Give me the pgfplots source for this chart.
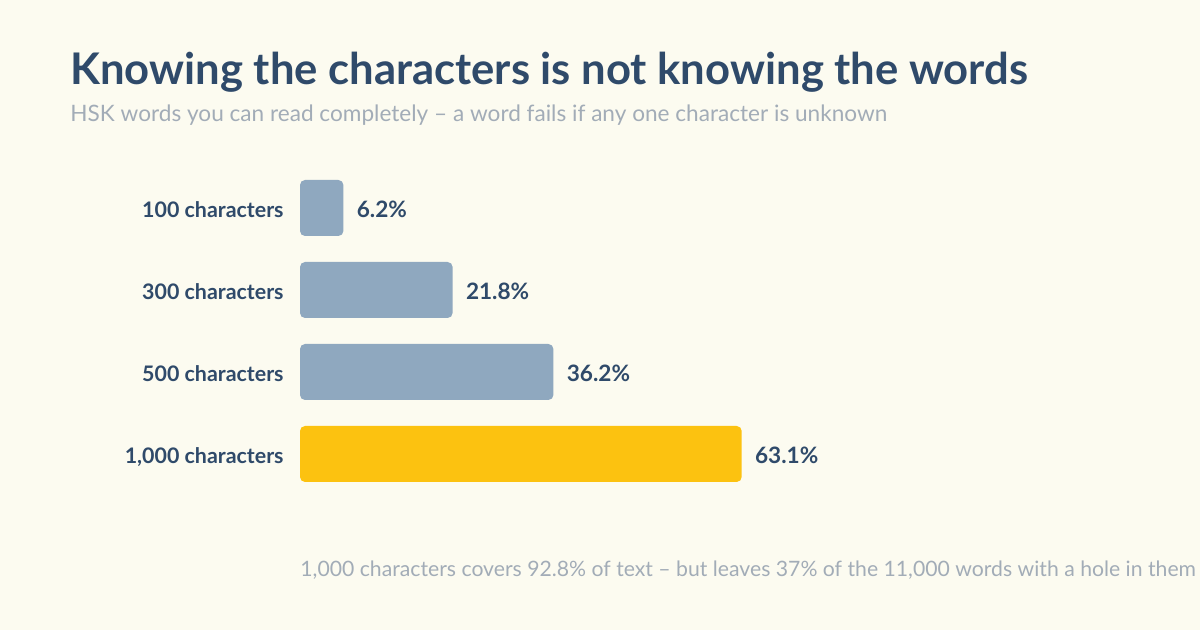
\documentclass[border=0pt]{standalone}
\usepackage{fontspec}
\setmainfont{Lato}
\usepackage{pgfplots}
\pgfplotsset{compat=1.18}
\definecolor{bgcol}{HTML}{FCFBF0}
\definecolor{navy}{HTML}{2F4A6A}
\definecolor{subgray}{HTML}{A2ACB7}
\definecolor{barblue}{HTML}{8FA8BF}
\definecolor{baryellow}{HTML}{FCC210}
\begin{document}
\begin{tikzpicture}
\useasboundingbox (0,0) rectangle (600pt,315pt);
\fill[bgcol] (0,0) rectangle (600pt,315pt);
\clip (0,0) rectangle (600pt,315pt);
% title block
\node[anchor=base west, inner sep=0pt, text=navy, font=\bfseries\fontsize{21.8}{26}\selectfont]
  at (35pt,272.5pt) {Knowing the characters is not knowing the words};
\node[anchor=base west, inner sep=0pt, text=subgray, font=\fontsize{11.3}{13}\selectfont]
  at (35pt,254pt) {HSK words you can read completely – a word fails if any one character is unknown};
% footnote
\node[anchor=base west, inner sep=0pt, text=subgray, font=\fontsize{10.6}{13}\selectfont]
  at (150pt,26.5pt) {1,000 characters covers 92.8\% of text – but leaves 37\% of the 11,000 words with a hole in them};
\begin{axis}[
    at={(150pt,67.5pt)}, anchor=south west,
    scale only axis, width=350pt, height=164pt,
    xbar, bar width=28pt, bar shift=0pt,
    xmin=0, xmax=100, ymin=-0.5, ymax=3.5,
    enlargelimits=false, clip=false,
    axis line style={draw=none}, major tick length=0pt,
    xtick=\empty,
    ytick={0,1,2,3},
    yticklabels={{1,000 characters},{500 characters},{300 characters},{100 characters}},
    yticklabel style={anchor=base east, inner sep=0pt, xshift=-8pt, yshift=-5pt, text=navy,
      font=\bfseries\fontsize{10.7}{12}\selectfont},
    point meta=x,
    nodes near coords={\pgfmathprintnumber[assume math mode=true,fixed,fixed zerofill,precision=1]{\pgfplotspointmeta}\%},
    nodes near coords style={anchor=base west, inner sep=0pt, xshift=6.5pt, yshift=-5pt, text=navy,
      font=\bfseries\fontsize{11.3}{13}\selectfont},
  ]
  \addplot[fill=barblue, draw=none, rounded corners=2.5pt] coordinates {(36.2,1) (21.8,2) (6.2,3)};
  \addplot[fill=baryellow, draw=none, rounded corners=2.5pt] coordinates {(63.1,0)};
\end{axis}
\end{tikzpicture}
\end{document}
